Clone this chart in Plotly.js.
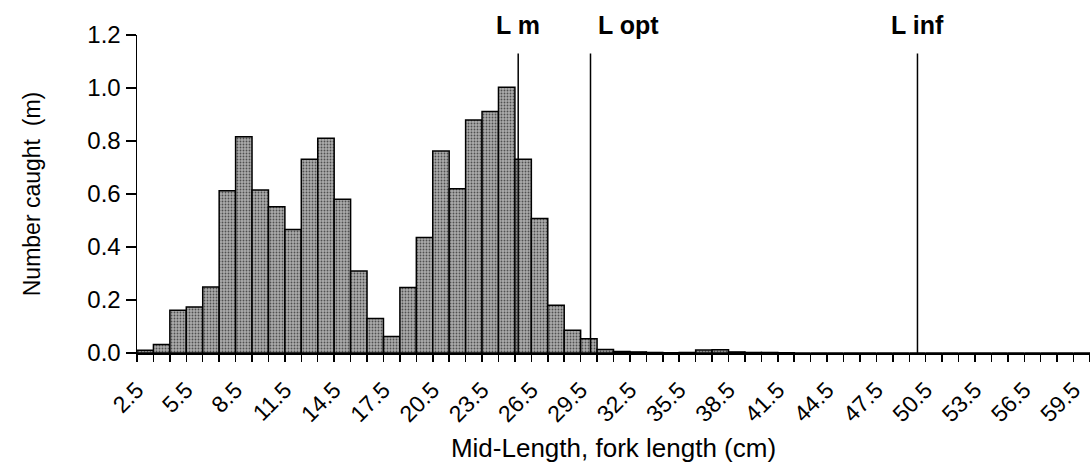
<!DOCTYPE html>
<html>
<head>
<meta charset="utf-8">
<script src="https://cdn.plot.ly/plotly-3.0.1.min.js"></script>
<style>
html, body { margin: 0; padding: 0; background: #fff; overflow: hidden; }
#chart { width: 1090px; height: 468px; }
</style>
</head>
<body>
<div id="chart"></div>
<script>
// Mid-length classes (cm)
const midLengths = [2.5, 3.5, 4.5, 5.5, 6.5, 7.5, 8.5, 9.5, 10.5, 11.5,
  12.5, 13.5, 14.5, 15.5, 16.5, 17.5, 18.5, 19.5, 20.5, 21.5,
  22.5, 23.5, 24.5, 25.5, 26.5, 27.5, 28.5, 29.5, 30.5, 31.5,
  32.5, 33.5, 34.5, 35.5, 36.5, 37.5, 38.5, 39.5, 40.5, 41.5,
  42.5, 43.5, 44.5, 45.5, 46.5, 47.5, 48.5, 49.5, 50.5, 51.5,
  52.5, 53.5, 54.5, 55.5, 56.5, 57.5, 58.5, 59.5];

// Number caught (millions)
const numberCaught = [0.010, 0.032, 0.161, 0.174, 0.249, 0.612, 0.816, 0.615, 0.552, 0.466,
  0.731, 0.810, 0.580, 0.309, 0.130, 0.062, 0.247, 0.436, 0.762, 0.620,
  0.879, 0.911, 1.003, 0.731, 0.508, 0.180, 0.086, 0.054, 0.013, 0.006,
  0.004, 0.002, 0.001, 0.002, 0.011, 0.012, 0.004, 0.002, 0.002, 0.001,
  0, 0, 0, 0, 0, 0, 0, 0, 0, 0,
  0, 0, 0, 0, 0, 0, 0, 0];

// Reference lengths
const refNames = ['L m', 'L opt', 'L inf'];
const refLengths = [25.2, 29.6, 49.5];

// Labelled ticks: every third class
const tickLabels = ['2.5', '5.5', '8.5', '11.5', '14.5', '17.5', '20.5', '23.5', '26.5', '29.5',
  '32.5', '35.5', '38.5', '41.5', '44.5', '47.5', '50.5', '53.5', '56.5', '59.5'];

const FONT = 'Arial, "Liberation Sans", sans-serif';

const trace = {
  type: 'bar',
  x: midLengths,
  y: numberCaught,
  width: 1,
  marker: {
    color: '#a5a5a5',
    line: { color: '#000', width: 1.5 },
    pattern: { shape: '.', fgcolor: '#505050', bgcolor: '#acacac', size: 3, solidity: 0.3 }
  },
  hoverinfo: 'x+y'
};

const shapes = refLengths.map(v => ({
  type: 'line', xref: 'x', yref: 'y',
  x0: v, x1: v, y0: 0, y1: 1.13,
  line: { color: '#000', width: 1.5 }
}));

const annotations = refNames.map((name, i) => ({
  xref: 'x', yref: 'paper',
  x: refLengths[i], y: 1.03,
  text: '<b>' + name + '</b>',
  showarrow: false,
  xanchor: name === 'L opt' ? 'left' : 'center',
  xshift: name === 'L opt' ? 5 : 0,
  yanchor: 'middle',
  font: { family: FONT, size: 25, color: '#000' }
}));

const layout = {
  width: 1090,
  height: 468,
  margin: { l: 137, r: 0, t: 35, b: 115, pad: 0 },
  paper_bgcolor: '#fff',
  plot_bgcolor: '#fff',
  showlegend: false,
  bargap: 0,
  font: { family: FONT, color: '#000' },
  xaxis: {
    range: [2, 60],
    tickvals: tickLabels.map(t => parseFloat(t) - 0.5),
    ticktext: tickLabels,
    tickangle: -45,
    ticks: 'outside',
    ticklen: 7,
    tickwidth: 1.5,
    tickcolor: '#000',
    ticklabelstandoff: 6,
    minor: { tick0: 2, dtick: 1, ticks: 'outside', ticklen: 7, tickwidth: 1.5, tickcolor: '#000' },
    showline: true,
    linecolor: '#000',
    linewidth: 1.5,
    showgrid: false,
    zeroline: false,
    tickfont: { family: FONT, size: 23, color: '#000' },
    title: { text: 'Mid-Length, fork length (cm)', font: { family: FONT, size: 26, color: '#000' }, standoff: 13 },
    automargin: false
  },
  yaxis: {
    range: [0, 1.2],
    tickvals: [0, 0.2, 0.4, 0.6, 0.8, 1.0, 1.2],
    tickformat: '.1f',
    ticks: 'outside',
    ticklen: 10,
    tickwidth: 1.5,
    tickcolor: '#000',
    showline: true,
    linecolor: '#000',
    linewidth: 1.5,
    showgrid: false,
    zeroline: false,
    tickfont: { family: FONT, size: 24, color: '#000' },
    title: { text: 'Number caught  (m)', font: { family: FONT, size: 23, color: '#000' }, standoff: 40 },
    automargin: false
  },
  shapes: shapes,
  annotations: annotations
};

Plotly.newPlot('chart', [trace], layout, { displayModeBar: false, staticPlot: true });
</script>
</body>
</html>
